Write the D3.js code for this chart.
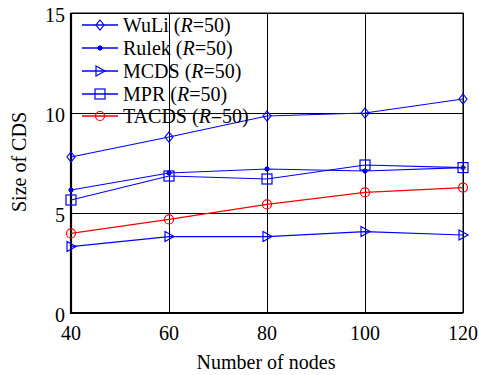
<!DOCTYPE html>
<html>
<head>
<meta charset="utf-8">
<script src="https://cdn.jsdelivr.net/npm/d3@7"></script>
<style>
  body { margin: 0; background: #fff; }
  text { font-family: "Liberation Serif", "Times New Roman", serif; }
</style>
</head>
<body>
<div id="app"></div>
<script>
const nodes = [40, 60, 80, 100, 120];
const xTicks = [40, 60, 80, 100, 120];
const yTicks = [0, 5, 10, 15];

const wuli = [7.8, 8.8, 9.85, 10.0, 10.7];
const rulek = [6.15, 7.0, 7.2, 7.1, 7.27];
const mcds = [3.32, 3.82, 3.82, 4.07, 3.9];
const mpr = [5.65, 6.85, 6.7, 7.4, 7.27];
const tacds = [3.98, 4.68, 5.43, 6.03, 6.27];

const seriesNames = ['WuLi', 'Rulek', 'MCDS', 'MPR', 'TACDS'];

const render = () => {
  const width = 479;
  const height = 375;
  const m = { left: 71, right: 16, top: 13, bottom: 62 };
  const fs = 20;

  const svg = d3.select('#app').append('svg')
    .attr('width', width)
    .attr('height', height);

  const x = d3.scaleLinear().domain([40, 120]).range([m.left, width - m.right]);
  const y = d3.scaleLinear().domain([0, 15]).range([height - m.bottom, m.top]);

  // grid
  svg.append('g')
    .attr('transform', `translate(0, ${height - m.bottom})`)
    .call(d3.axisBottom(x).tickValues(xTicks).tickSize(-(height - m.bottom - m.top)).tickFormat(''))
    .call(g => g.select('.domain').remove())
    .selectAll('line').attr('stroke', '#000').attr('stroke-width', 1);
  svg.append('g')
    .attr('transform', `translate(${m.left}, 0)`)
    .call(d3.axisLeft(y).tickValues(yTicks).tickSize(-(width - m.left - m.right)).tickFormat(''))
    .call(g => g.select('.domain').remove())
    .selectAll('line').attr('stroke', '#000').attr('stroke-width', 1);

  // frame
  svg.append('rect')
    .attr('x', m.left).attr('y', m.top)
    .attr('width', width - m.left - m.right)
    .attr('height', height - m.top - m.bottom)
    .attr('fill', 'none').attr('stroke', '#000').attr('stroke-width', 1);
  svg.append('line')
    .attr('x1', m.left).attr('x2', width - m.right)
    .attr('y1', y(0)).attr('y2', y(0))
    .attr('stroke', '#000').attr('stroke-width', 2.2);
  svg.append('line')
    .attr('x1', m.left).attr('x2', m.left)
    .attr('y1', y(0) + 1).attr('y2', m.top)
    .attr('stroke', '#000').attr('stroke-width', 2.2);

  // tick labels
  svg.append('g').selectAll('text').data(xTicks).join('text')
    .attr('x', d => x(d)).attr('y', y(0) + 27)
    .attr('text-anchor', 'middle').attr('font-size', fs)
    .text(d => d);
  svg.append('g').selectAll('text').data(yTicks).join('text')
    .attr('x', m.left - 6).attr('y', d => y(d) + 9)
    .attr('text-anchor', 'end').attr('font-size', fs)
    .text(d => d);

  svg.append('text')
    .attr('x', 266).attr('y', 369)
    .attr('text-anchor', 'middle').attr('font-size', fs)
    .text('Number of nodes');
  svg.append('text')
    .attr('transform', `translate(26, 162) rotate(-90)`)
    .attr('text-anchor', 'middle').attr('font-size', fs)
    .text('Size of CDS');

  const series = [
    { name: 'WuLi', values: wuli, color: '#0000ff', marker: 'diamond' },
    { name: 'Rulek', values: rulek, color: '#0000ff', marker: 'star' },
    { name: 'MCDS', values: mcds, color: '#0000ff', marker: 'triangle' },
    { name: 'MPR', values: mpr, color: '#0000ff', marker: 'square' },
    { name: 'TACDS', values: tacds, color: '#ff0000', marker: 'circle' },
  ];

  const drawMarker = (g, type, color) => {
    if (type === 'diamond') {
      g.append('path').attr('d', 'M0,-5L4,0L0,5L-4,0Z')
        .attr('fill', 'none').attr('stroke', color).attr('stroke-width', 1.2);
    } else if (type === 'star') {
      g.append('circle').attr('r', 2.2).attr('fill', color);
      g.append('path').attr('d', 'M-3,0H3M0,-3V3M-2,-2L2,2M-2,2L2,-2')
        .attr('stroke', color).attr('stroke-width', 1);
    } else if (type === 'triangle') {
      g.append('path').attr('d', 'M-4,-5L5,0L-4,5Z')
        .attr('fill', 'none').attr('stroke', color).attr('stroke-width', 1.2);
    } else if (type === 'square') {
      g.append('rect').attr('x', -5).attr('y', -5).attr('width', 10).attr('height', 10)
        .attr('fill', 'none').attr('stroke', color).attr('stroke-width', 1.2);
    } else {
      g.append('circle').attr('r', 4.5)
        .attr('fill', 'none').attr('stroke', color).attr('stroke-width', 1.2);
    }
  };

  const line = d3.line().x(d => x(d[0])).y(d => y(d[1]));

  series.forEach(s => {
    const pts = nodes.map((n, i) => [n, s.values[i]]);
    svg.append('path')
      .datum(pts)
      .attr('d', line)
      .attr('fill', 'none').attr('stroke', s.color).attr('stroke-width', 1.2);
    pts.forEach(p => {
      const g = svg.append('g').attr('transform', `translate(${x(p[0])}, ${y(p[1])})`);
      drawMarker(g, s.marker, s.color);
    });
  });

  // legend
  const legendY = [25, 48, 71, 94, 116];
  series.forEach((s, i) => {
    const ly = legendY[i];
    svg.append('line')
      .attr('x1', 82).attr('x2', 118).attr('y1', ly).attr('y2', ly)
      .attr('stroke', s.color).attr('stroke-width', 1.5);
    const g = svg.append('g').attr('transform', `translate(100, ${ly})`);
    drawMarker(g, s.marker, s.color);
    const t = svg.append('text')
      .attr('x', 123).attr('y', ly + 7).attr('font-size', fs);
    t.append('tspan').text(`${seriesNames[i]} (`);
    t.append('tspan').attr('font-style', 'italic').text('R');
    t.append('tspan').text('=50)');
  });
};

render();
</script>
</body>
</html>
